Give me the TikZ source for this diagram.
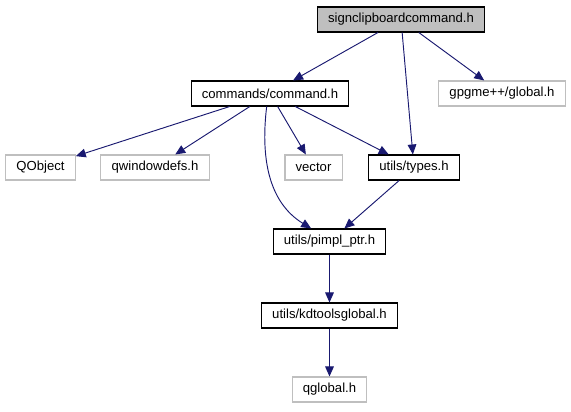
\documentclass[tikz,border=0pt]{standalone}
\usepackage{fontspec}
\setmainfont{Liberation Sans}
\usetikzlibrary{arrows.meta,positioning}
\definecolor{edgeblue}{HTML}{191970}
\definecolor{boxgray}{HTML}{BFBFBF}
\tikzset{
  hdr/.style={draw,rectangle,line width=0.9pt,minimum height=0.75cm,
    inner xsep=0.32cm,inner ysep=0pt,font=\fontsize{11.2}{13}\selectfont},
  mainhdr/.style={hdr,fill=boxgray},
  exthdr/.style={hdr,draw=boxgray},
  dep/.style={draw=edgeblue,line width=0.8pt,-{Triangle[length=3mm,width=2.6mm]}},
}
\begin{document}
\begin{tikzpicture}
  \useasboundingbox (0,0) rectangle (17.13,-12.33);
  % headers
  \node[mainhdr] (sign) at (12.03,-0.585) {signclipboardcommand.h};
  \node[hdr] (cmd) at (8.10,-2.805) {commands/command.h};
  \node[exthdr] (gpgme) at (15.06,-2.805) {gpgme++/global.h};
  \node[exthdr] (qobject) at (1.215,-5.025) {QObject};
  \node[exthdr] (qwindowdefs) at (4.65,-5.025) {qwindowdefs.h};
  \node[exthdr] (vector) at (9.405,-5.025) {vector};
  \node[hdr] (types) at (12.42,-5.025) {utils/types.h};
  \node[hdr] (pimpl) at (9.885,-7.245) {utils/pimpl\_ptr.h};
  \node[hdr] (kdtools) at (9.885,-9.465) {utils/kdtoolsglobal.h};
  \node[exthdr] (qglobal) at (9.885,-11.685) {qglobal.h};
  % includes
  \draw[dep] (sign) -- (cmd);
  \draw[dep] (sign) -- (types);
  \draw[dep] (sign) -- (gpgme);
  \draw[dep] (cmd) -- (qobject);
  \draw[dep] (cmd) -- (qwindowdefs);
  \draw[dep] (cmd) -- (vector);
  \draw[dep] (cmd) -- (types);
  \draw[dep] ([xshift=-0.1cm]cmd.south) .. controls +(-0.18,-1.5) and +(-1.3,0.8) .. ([xshift=-0.55cm]pimpl.north);
  \draw[dep] (types) -- (pimpl);
  \draw[dep] (pimpl) -- (kdtools);
  \draw[dep] (kdtools) -- (qglobal);
\end{tikzpicture}
\end{document}
